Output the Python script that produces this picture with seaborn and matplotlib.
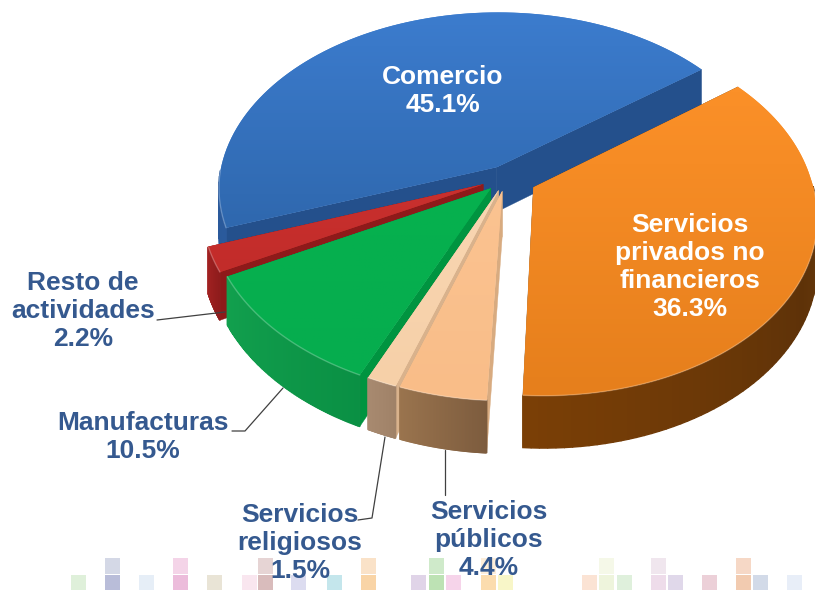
import numpy as np
import matplotlib
matplotlib.use('Agg')
import matplotlib.pyplot as plt
from matplotlib.patches import Rectangle
import seaborn as sns

sns.set_theme(style='white')
plt.rcParams['font.family'] = ['Liberation Sans', 'DejaVu Sans']

sectors = ['Comercio', 'Resto de\nactividades', 'Manufacturas', 'Servicios\nreligiosos',
           'Servicios\npúblicos', 'Servicios\nprivados no\nfinancieros']
shares = [45.1, 2.2, 10.5, 1.5, 4.4, 36.3]

# look of each slice
explode = [0.07, 0.09, 0.08, 0.075, 0.075, 0.11]
top_cols = [('#3c7cce', '#2f68ae'), ('#c9302e', '#c22c2a'), ('#06b14f', '#06ad4e'),
            ('#f9d6b2', '#f6d0a8'), ('#fbc391', '#f9bd88'), ('#fb9028', '#e67f1c')]
wall_cols = [('#24508c', '#2a5a9c'), ('#a32222', '#8f1c1c'), ('#12a04e', '#0a9044'),
             ('#a88a70', '#a08268'), ('#9a744e', '#7d5c3e'), ('#7a3f06', '#5e3208', '#7a4a14')]
face_cols = ['#24508c', '#8e1a1a', '#009440', '#d9b28c', '#d8ab80', '#7a4208']

# pale squares along the bottom of the slide
low_x = [71, 105, 139, 173, 207, 242, 258, 291, 327, 361, 411, 429, 446, 481, 498, 582, 599, 617, 651, 668, 702, 736, 753, 787]
low_c = ['#dff0da', '#b9bdd9', '#e6eef7', '#ecbcdb', '#e9e4d6', '#f9e6ef', '#d9bcbc', '#dcdcf0', '#c4e6ec', '#f9d4a6',
         '#e0d4e8', '#bde2b4', '#f6d4ea', '#fbdcae', '#f8f6c8', '#fbe3d4', '#eef4dc', '#dff0dc', '#eedcea', '#e0d8ea',
         '#ecd0d8', '#f2cbb0', '#d2dae8', '#e8eef8']
up_x = [105, 173, 258, 361, 429, 481, 599, 651, 736]
up_c = ['#d4d8e6', '#f4d4e8', '#e6d4d4', '#fae2c8', '#cfeaca', '#fdeeda', '#f5f8e8', '#f0e6ee', '#f6d8c6']

cx, cy = 506, 178
A, B = 278, 178
persp = 0.133
shear = 6
depth = 45
start = 37


def project(u, v, z=0):
    s = 1 / (1 - persp * v)
    return cx + A * u * s + shear * np.maximum(v, 0), cy + B * v * s + z * s


fig, ax = plt.subplots(figsize=(8.15, 5.9), dpi=100)
fig.subplots_adjust(0, 0, 1, 1)
ax.axis('off')

for x, c in zip(low_x, low_c):
    ax.add_patch(Rectangle((x, 575), 15, 15, color=c, lw=0, zorder=0))
for x, c in zip(up_x, up_c):
    ax.add_patch(Rectangle((x, 558), 15, 16, color=c, lw=0, zorder=0))

ends = start + np.cumsum(shares) * 3.6
begins = ends - np.array(shares) * 3.6
mids = np.radians((begins + ends) / 2)

order = np.argsort(-np.sin(mids))
z = 1
for i in order:
    th = np.radians(np.linspace(begins[i], ends[i], 90))
    ou = explode[i] * np.cos(mids[i])
    ov = -explode[i] * np.sin(mids[i])
    u = ou + np.cos(th)
    v = ov - np.sin(th)

    # cut faces
    for j in (0, -1):
        xs = [project(ou, ov)[0], project(u[j], v[j])[0], project(u[j], v[j], depth)[0], project(ou, ov, depth)[0]]
        ys = [project(ou, ov)[1], project(u[j], v[j])[1], project(u[j], v[j], depth)[1], project(ou, ov, depth)[1]]
        ax.fill(xs, ys, color=face_cols[i], lw=0.3, zorder=z)
        z += 1

    # outer wall, strip by strip, only the part that faces the viewer
    strip = sns.blend_palette(wall_cols[i], n_colors=len(th))
    for k in range(len(th) - 1):
        if np.sin(th[k]) > 0:
            continue
        x0, y0 = project(u[k], v[k])
        x1, y1 = project(u[k + 1], v[k + 1])
        x2, y2 = project(u[k + 1], v[k + 1], depth)
        x3, y3 = project(u[k], v[k], depth)
        ax.fill([x0, x1, x2, x3], [y0, y1, y2, y3], color=strip[k], lw=1, zorder=z)
    z += 1

    # top surface with a vertical gradient
    tx, ty = project(np.r_[ou, u], np.r_[ov, v])
    poly = ax.fill(tx, ty, color=top_cols[i][0], lw=0, zorder=z)[0]
    z += 1
    cmap = sns.blend_palette(top_cols[i], as_cmap=True)
    im = ax.imshow(np.linspace(0, 1, 64)[:, None], cmap=cmap, aspect='auto', zorder=z,
                   extent=(tx.min(), tx.max(), ty.max(), ty.min()))
    im.set_clip_path(poly)
    z += 1

    # light rim on the front edge
    front = np.sin(th) < 0
    if front.any():
        rx, ry = project(u[front], v[front])
        ax.plot(rx, ry, color='white', alpha=0.25, lw=1, zorder=z)
        z += 1

ax.set_xlim(0, 815)
ax.set_ylim(590, 0)

navy = '#35598f'
lab = dict(ha='center', va='center', fontweight='bold', fontsize=19, linespacing=1.2, zorder=200)
ax.text(443, 91, f'{sectors[0]}\n{shares[0]}%', color='white', **lab)
ax.text(690, 267, f'{sectors[5]}\n{shares[5]}%', color='white', **lab)
ax.text(83, 311, f'{sectors[1]}\n{shares[1]}%', color=navy, **lab)
ax.text(143, 437, f'{sectors[2]}\n{shares[2]}%', color=navy, **lab)
ax.text(300, 543, f'{sectors[3]}\n{shares[3]}%', color=navy, **lab)
ax.text(489, 540, f'{sectors[4]}\n{shares[4]}%', color=navy, **lab)

leaders = [([157, 225], [320, 312]), ([232, 245, 283], [431, 431, 388]),
           ([358, 372, 385], [520, 518, 437]), ([445, 445], [495, 450])]
for lx, ly in leaders:
    ax.plot(lx, ly, color='#404040', lw=0.9, zorder=190)

fig.savefig('out.png', dpi=100)
